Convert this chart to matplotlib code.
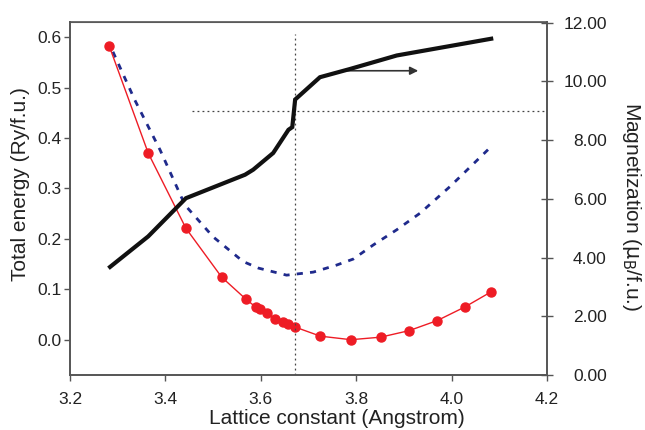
import matplotlib
matplotlib.use("Agg")
import matplotlib.pyplot as plt

plt.rcParams['font.family'] = ['Liberation Sans', 'DejaVu Sans']

# Total energy (red, left axis)
a_red = [3.282, 3.364, 3.443, 3.518, 3.568, 3.589, 3.598, 3.614, 3.630, 3.646,
         3.657, 3.672, 3.725, 3.789, 3.851, 3.911, 3.970, 4.028, 4.083]
e_red = [0.583, 0.370, 0.221, 0.124, 0.081, 0.065, 0.061, 0.052, 0.042, 0.036,
         0.031, 0.025, 0.007, 0.000, 0.005, 0.018, 0.038, 0.065, 0.095]

# Second energy curve (blue dashed, left axis)
a_blue = [3.290, 3.336, 3.389, 3.441, 3.500, 3.563, 3.595, 3.654, 3.710, 3.759,
          3.794, 3.836, 3.885, 3.934, 3.997, 4.083]
e_blue = [0.571, 0.475, 0.376, 0.267, 0.204, 0.155, 0.142, 0.128, 0.134, 0.148,
          0.160, 0.188, 0.218, 0.251, 0.304, 0.383]

# Magnetization (black, right axis)
a_mag = [3.284, 3.364, 3.443, 3.567, 3.584, 3.626, 3.658, 3.666, 3.672, 3.724,
         3.787, 3.885, 4.083]
m_mag = [3.68, 4.72, 6.02, 6.82, 6.99, 7.56, 8.35, 8.44, 9.38, 10.14,
         10.42, 10.88, 11.45]

x_ticks = [3.2, 3.4, 3.6, 3.8, 4.0, 4.2]
e_ticks = [0.0, 0.1, 0.2, 0.3, 0.4, 0.5, 0.6]
m_ticks = [0, 2, 4, 6, 8, 10, 12]

a_eq = 3.672
m_ref = 9.0

W, H = 645, 430
fig = plt.figure(figsize=(W/100, H/100), dpi=100)
ax = fig.add_axes([70/W, 1-375/H, (547-70)/W, (375-22)/H])
ax2 = ax.twinx()

spine_c = '#555555'
txt_c = '#222222'
for a in (ax, ax2):
    for s in a.spines.values():
        s.set_color(spine_c)
        s.set_linewidth(1.2)
ax.spines['top'].set_linewidth(0.8)
ax.spines['top'].set_color('#777777')

ax.plot(a_red, e_red, '-o', color='#ee1c25', lw=1.0, ms=6.5, zorder=5)
ax.plot(a_blue, e_blue, color='#1f2a8c', lw=2.0, dashes=(2.2, 2.6), zorder=4)

ax2.plot(a_mag, m_mag, color='#111111', lw=3.0, solid_joinstyle='miter', zorder=6)
ax2.axvline(a_eq, ymin=0, ymax=11.6/12, color='#444444', lw=0.9, ls=(0, (1.5, 2.5)))
ax2.plot([3.455, 4.2], [m_ref, m_ref], color='#444444', lw=0.9, ls=(0, (1.5, 2.5)))
ax2.annotate('', xy=(3.93, 10.36), xytext=(3.78, 10.36),
             arrowprops=dict(arrowstyle='-|>', color='#333333', lw=1.2,
                             mutation_scale=12, shrinkA=0, shrinkB=0))

ax.set_xlim(3.2, 4.2)
ax.set_ylim(-0.07, 0.63)
ax2.set_ylim(0, 12.02)

ax.set_xticks(x_ticks)
ax.set_xticklabels([f"{v:.1f}" for v in x_ticks])
ax.set_yticks(e_ticks)
ax.set_yticklabels([f"{v:.1f}" for v in e_ticks])
ax2.set_yticks(m_ticks)
ax2.set_yticklabels([f"{v:.2f}" for v in m_ticks], ha='right')

ax.tick_params(axis='both', labelsize=12.5, color=spine_c, length=4, width=1, labelcolor=txt_c)
ax.tick_params(axis='y', pad=2)
ax.tick_params(axis='x', pad=8)
ax2.tick_params(axis='y', labelsize=12.5, color=spine_c, length=8, width=1, direction='inout',
                labelcolor=txt_c, pad=39)

fig.text(337/W, 1-419/H, 'Lattice constant (Angstrom)', fontsize=15, color=txt_c,
         ha='center', va='center')
fig.text(21/W, 1-184/H, 'Total energy (Ry/f.u.)', fontsize=15, color=txt_c,
         ha='center', va='center', rotation=90)
fig.text(632/W, 1-207/H, r'Magnetization ($\mathrm{\mu_B}$/f.u.)', fontsize=15, color=txt_c,
         ha='center', va='center', rotation=270)

fig.savefig('out.png', dpi=100)
